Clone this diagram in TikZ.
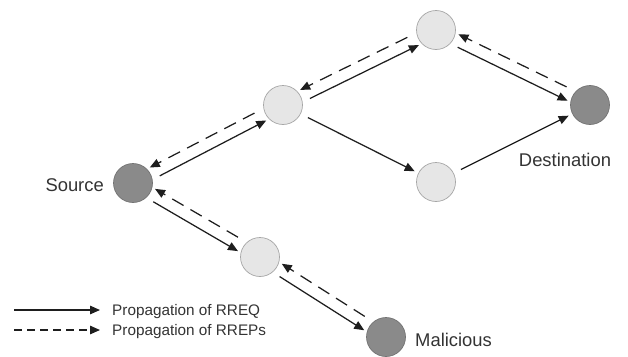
\documentclass[tikz,border=0pt]{standalone}
\usepackage{fontspec}
\setmainfont{Liberation Sans}
\usetikzlibrary{arrows.meta,calc}

\definecolor{hostgray}{HTML}{8A8A8A}
\definecolor{relaygray}{HTML}{E6E6E6}
\definecolor{linegray}{HTML}{1E1E1E}

\tikzset{
  relay/.style={circle, draw=black!35, fill=relaygray, minimum size=39pt, inner sep=0pt, line width=0.7pt},
  host/.style={relay, fill=hostgray, draw=black!55},
  rreq/.style={draw=linegray, line width=1.25pt, -{Triangle[length=10pt,width=8.5pt]}},
  rrep/.style={rreq, dash pattern=on 13pt off 8pt},
  lbl/.style={text=black!80, inner sep=0pt, font=\fontsize{18.4}{22}\selectfont},
  keytext/.style={text=black!80, inner sep=0pt, font=\fontsize{15.3}{18}\selectfont},
}

\begin{document}
\begin{tikzpicture}[x=1pt, y=-1pt]
  \useasboundingbox (0,0) rectangle (628,356);
  % hosts and relays
  \node[host]  (src) at (133,183) {};
  \node[relay] (a)   at (283,105) {};
  \node[relay] (t)   at (436,30)  {};
  \node[host]  (dst) at (590,105) {};
  \node[relay] (b)   at (436,182) {};
  \node[relay] (l)   at (260,257) {};
  \node[host]  (mal) at (386,337) {};
  \node[lbl, anchor=base east] (srclbl) at (104,191.5) {Source};
  \node[lbl, anchor=base] (dstlbl) at (565,166.6) {Destination};
  \node[lbl, anchor=base west] (mallbl) at (415,346.6) {Malicious};
  % request forward, reply back
  \foreach \p/\q in {src/a, a/t, t/dst, src/l, l/mal} {
    \draw[rreq, shorten <=27pt, shorten >=22pt] ($(\p)!6pt!-90:(\q)$) -- ($(\q)!6pt!90:(\p)$);
    \draw[rrep, shorten <=29pt, shorten >=22pt] ($(\q)!6pt!-90:(\p)$) -- ($(\p)!6pt!90:(\q)$);
  }
  \draw[rreq, shorten <=8pt, shorten >=4pt] (a) -- (b);
  \draw[rreq, shorten <=8pt, shorten >=4pt] (b) -- (dst);
  % legend
  \coordinate (reqtail) at (14,310);
  \coordinate (reqhead) at (100,310);
  \coordinate (reptail) at (14,330);
  \coordinate (rephead) at (100,330);
  \draw[rreq] (reqtail) -- (reqhead);
  \draw[rreq, dash pattern=on 8pt off 5pt] (reptail) -- (rephead);
  \node[keytext, anchor=base west] (reqkey) at (112,315.6) {Propagation of RREQ};
  \node[keytext, anchor=base west] (repkey) at (112,335.6) {Propagation of RREPs};
\end{tikzpicture}
\end{document}
